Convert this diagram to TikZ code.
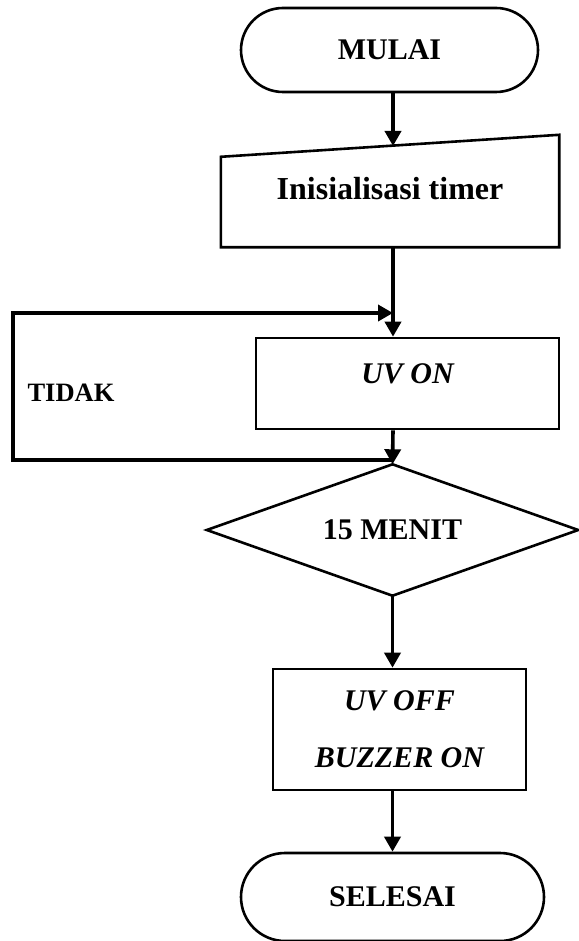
\documentclass[tikz,border=0pt]{standalone}
\usepackage{fontspec}
\setmainfont{Liberation Serif}
\usetikzlibrary{arrows.meta,calc}
\begin{document}
\begin{tikzpicture}[x=1pt,y=-1pt,
  conn/.style={line width=3.6pt},
  arr/.style={conn,-{Triangle[length=15pt,width=16pt]}},
  boxline/.style={line width=2.6pt},
  term/.style={draw,boxline,rounded corners=42pt,inner sep=0pt,font=\fontsize{30}{36}\selectfont\bfseries},
  procbox/.style={draw,boxline,rectangle,inner sep=0pt,font=\fontsize{30}{36}\selectfont\bfseries\itshape},
  plain/.style={inner sep=0pt,font=\fontsize{30}{36}\selectfont\bfseries}
]
\useasboundingbox (0,0) rectangle (578,941);
% terminals
\node[term,minimum width=297pt,minimum height=84pt] (mulai) at (389.5,50) {MULAI};
% manual input
\node[plain,minimum width=338pt,minimum height=112pt,text height=38pt,text depth=20pt,font=\fontsize{32}{36}\selectfont\bfseries] (init) at (390,191) {Inisialisasi timer};
\draw[boxline] (init.south west) -- (init.south east) -- (init.north east) -- ([yshift=-22pt]init.north west) -- cycle;
\coordinate (inittop) at (393,146);
% UV ON
\node[procbox,minimum width=303pt,minimum height=91pt,text height=20pt,text depth=20pt] (uvon) at (407.5,383.5) {UV ON};
% decision
\node[plain,minimum width=371pt,minimum height=131pt] (dec) at (392.5,530) {15 MENIT};
\draw[boxline] (dec.north) -- (dec.east) -- (dec.south) -- (dec.west) -- cycle;
% UV OFF / BUZZER ON
\node[procbox,minimum width=253pt,minimum height=121pt,align=center,font=\fontsize{30}{57}\selectfont\bfseries\itshape] (uvoff) at (399.5,729.5) {UV OFF\\BUZZER ON};
% end
\node[term,minimum width=303pt,minimum height=88pt,rounded corners=44pt] (selesai) at (392.5,897) {SELESAI};
% loop label
\node[plain,font=\fontsize{26.5}{30}\selectfont\bfseries] (tidak) at (71,393) {TIDAK};
% connectors
\draw[arr] (mulai.south -| inittop) -- (inittop);
\draw[arr] (init.south -| inittop) -- (uvon.north -| inittop);
\draw[arr] (uvon.south -| inittop) -- (dec.north);
\coordinate (jbot) at (393,460);
\coordinate (jtop) at (393,313);
\coordinate (lb) at (13,460);
\coordinate (lt) at (13,313);
\draw[conn] (jbot) -- (lb) -- (lt);
\draw[arr] ([xshift=-1.8pt]lt) -- (jtop);
\draw[arr] (dec.south) -- (uvoff.north -| dec.south);
\draw[arr] (uvoff.south -| dec.south) -- (selesai.north -| dec.south);
\end{tikzpicture}
\end{document}
